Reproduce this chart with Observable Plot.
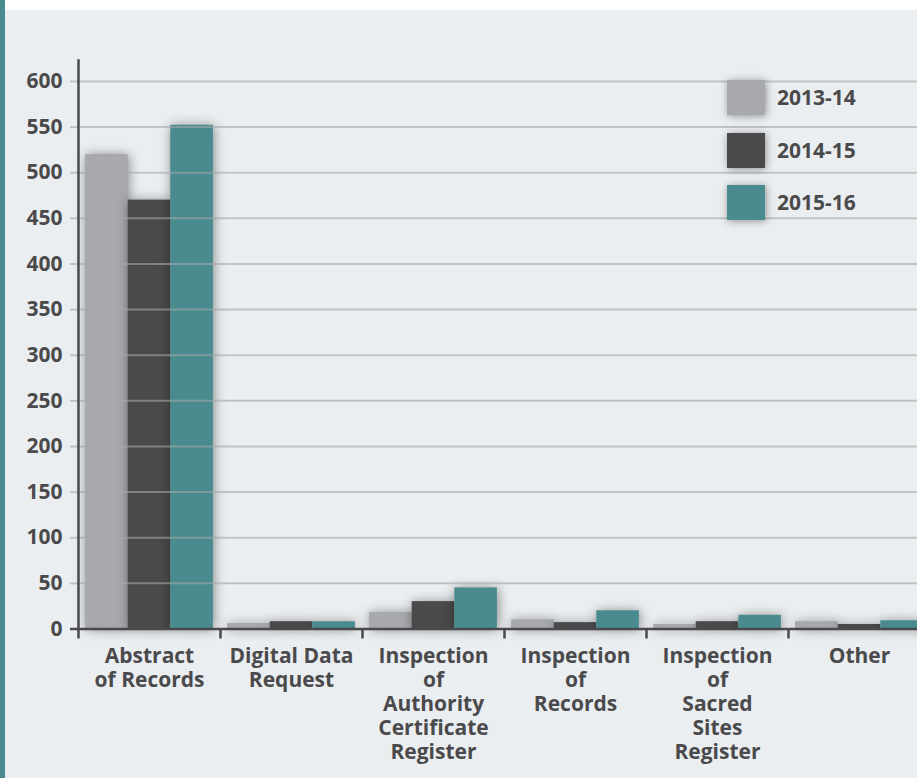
<!DOCTYPE html>
<html><head><meta charset="utf-8">
<script src="https://cdn.jsdelivr.net/npm/d3@7"></script>
<script src="https://cdn.jsdelivr.net/npm/@observablehq/plot@0.6"></script>
<style>
html,body{margin:0;padding:0;}
body{width:917px;height:778px;overflow:hidden;background:#ebeef0;font-family:"Open Sans",sans-serif;}
#wrap{position:relative;width:917px;height:778px;overflow:hidden;background:#ebeef0;}
#chart{position:absolute;left:0;top:0;width:930px;height:778px;}
#chart svg{max-width:none !important;width:930px !important;height:778px !important;}
.strip-left{position:absolute;left:0;top:0;width:5px;height:778px;background:#4a8b90;}
.strip-top{position:absolute;left:5px;top:0;width:912px;height:10px;background:#fff;}
#legend{position:absolute;left:727px;top:80px;}
.row{display:flex;align-items:center;height:35px;margin-bottom:17.5px;}
.sw{width:38px;height:35px;box-shadow:1px 1px 8px rgba(0,0,0,.4);margin-right:12px;}
.lbl{font-weight:700;font-size:21px;color:#4a4a4c;line-height:35px;}
</style></head>
<body>
<div id="wrap">
  <div id="chart"></div>
  <div class="strip-top"></div>
  <div class="strip-left"></div>
  <div id="legend"></div>
</div>
<script>
const categories = ["Abstract of Records", "Digital Data Request", "Inspection of Authority Certificate Register", "Inspection of Records", "Inspection of Sacred Sites Register", "Other"];
const categoryLabels = ["Abstract\nof Records", "Digital Data\nRequest", "Inspection\nof\nAuthority\nCertificate\nRegister", "Inspection\nof\nRecords", "Inspection\nof\nSacred\nSites\nRegister", "Other"];
const seriesNames = ["2013-14", "2014-15", "2015-16"];
const values2013_14 = [520, 6, 18, 10, 5, 8];
const values2014_15 = [470, 8, 30, 7, 8, 5];
const values2015_16 = [552, 8, 45, 20, 15, 9];
const seriesColors = ["#a8a9ac", "#4a4a4c", "#4a8b90"];
const yTicks = [0, 50, 100, 150, 200, 250, 300, 350, 400, 450, 500, 550, 600];

const seriesValues = [values2013_14, values2014_15, values2015_16];
const data = seriesNames.flatMap((s, si) => categories.map((c, ci) => ({category: c, series: s, value: seriesValues[si][ci]})));

const W = 930, H = 778, mL = 78, mR = 0, mT = 60, mB = 149.5;
const textColor = "#4a4a4c";
const gridColor = "#a3a6a8";
const xs = Plot.scale({x: {type: "band", domain: categories, range: [mL, W - mR], padding: 0}});
const bw = xs.bandwidth;
const sub = d3.scaleBand().domain(seriesNames).range([0, bw]).paddingInner(0).paddingOuter(0.167);

const barMarks = seriesNames.map((s, i) => Plot.barY(data.filter(d => d.series === s), {
  x: "category", y: "value", fill: seriesColors[i],
  insetLeft: sub(s), insetRight: bw - sub(s) - sub.bandwidth(),
  imageFilter: "drop-shadow(1px 1px 6px rgba(0,0,0,0.45))"
}));

const chart = Plot.plot({
  width: W, height: H,
  marginLeft: mL, marginRight: mR, marginTop: mT, marginBottom: mB,
  style: {background: "transparent", fontFamily: "'Open Sans', sans-serif", fontSize: "21px", fontWeight: "700", color: textColor, overflow: "visible", maxWidth: "none"},
  x: {type: "band", domain: categories, padding: 0, axis: null},
  y: {domain: [0, 623], axis: null},
  marks: [
    ...barMarks,
    Plot.ruleY(yTicks.filter(d => d > 0), {stroke: gridColor, strokeOpacity: 0.6, strokeWidth: 2}),
    Plot.axisY(yTicks.filter(d => d > 0), {tickSize: 8, stroke: gridColor, strokeOpacity: 0.6, strokeWidth: 2, tickFormat: () => "", label: null}),
    Plot.axisY(yTicks, {tickSize: 0, tickPadding: 16, fill: textColor, fontSize: 21, fontWeight: 700, label: null}),
    Plot.axisY([0], {tickSize: 8, stroke: textColor, strokeWidth: 2.5, tickFormat: () => "", label: null}),
    Plot.ruleY([0], {stroke: textColor, strokeWidth: 2.5}),
    Plot.frame({anchor: "left", stroke: textColor, strokeWidth: 2.5}),
    Plot.ruleX(categories, {x: d => d, dx: -bw / 2, y1: 0, y2: -11, stroke: textColor, strokeWidth: 2.5}),
    Plot.text(categories, {x: d => d, y: 0, text: (d, i) => categoryLabels[i], lineAnchor: "top", dy: 17, fontSize: 21, fontWeight: 700, fill: textColor, lineHeight: 24 / 21})
  ]
});
document.getElementById("chart").appendChild(chart);

const legend = document.getElementById("legend");
seriesNames.forEach((s, i) => {
  const row = document.createElement("div");
  row.className = "row";
  const sw = document.createElement("div");
  sw.className = "sw";
  sw.style.background = seriesColors[i];
  const lbl = document.createElement("span");
  lbl.className = "lbl";
  lbl.textContent = s;
  row.appendChild(sw); row.appendChild(lbl);
  legend.appendChild(row);
});
</script>
</body></html>
